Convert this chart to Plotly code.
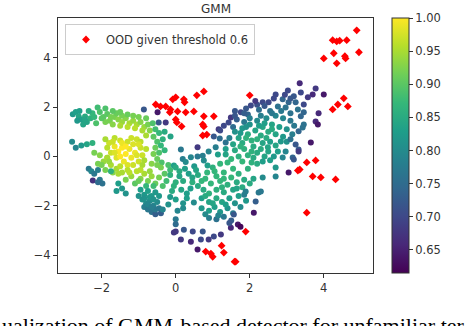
import plotly.graph_objects as go

# ---- data (x, y, detector score) ----
left_top = [
    (-2.78,1.71,0.82),(-2.70,1.80,0.83),(-2.62,1.62,0.84),(-2.55,1.50,0.83),(-2.66,1.45,0.82),
    (-2.45,1.62,0.85),(-2.40,1.40,0.84),(-2.30,1.55,0.86),(-2.50,1.30,0.84),(-2.25,1.75,0.87),
    (-2.11,1.99,0.88),(-2.05,1.80,0.89),(-1.95,1.60,0.90),(-1.85,1.72,0.90),(-1.78,1.45,0.92),
    (-1.65,1.60,0.92),(-1.55,1.50,0.93),(-1.45,1.40,0.94),(-1.35,1.55,0.93),(-1.25,1.35,0.95),
    (-1.15,1.45,0.94),(-1.05,1.30,0.95),(-0.95,1.40,0.93),(-0.85,1.20,0.94),(-0.75,1.30,0.92),
    (-0.70,1.05,0.93),(-0.90,1.05,0.95),(-1.10,1.15,0.96),(-1.30,1.20,0.96),(-1.50,1.25,0.95),
    (-1.70,1.30,0.93),(-1.90,1.40,0.92),(-2.00,1.55,0.90),(-1.60,1.75,0.91),(-1.30,1.70,0.91),
    (-1.00,1.60,0.92),(-0.80,1.55,0.91),(-2.15,1.35,0.89),
    (-0.86,1.91,0.72),(-0.49,1.79,0.64),(-0.46,1.38,0.72),
    (-2.60,1.85,0.83),(-2.35,1.85,0.85),(-2.45,1.50,0.84),(-2.20,1.60,0.87),(-1.90,1.95,0.89),
    (-1.75,1.60,0.92),(-1.45,1.65,0.92),(-1.15,1.65,0.92),(-1.70,1.85,0.90),(-1.50,1.80,0.91),
]
left_inner = [
    (-0.62,1.35,0.89),(-0.55,1.10,0.88),(-0.45,0.95,0.87),(-0.60,0.80,0.90),(-0.50,0.60,0.89),
    (-0.40,0.45,0.87),(-0.55,0.35,0.91),(-0.45,0.15,0.89),(-0.35,0.70,0.86),(-0.30,0.25,0.87),
    (-0.60,0.10,0.92),(-0.50,-0.10,0.91),(-0.38,-0.25,0.89),(-0.65,-0.30,0.93),(-0.30,1.00,0.85),
    (-0.27,1.38,0.68),(-0.14,0.81,0.84),
]
yellow_core = [
    (-1.80,0.55,0.97),(-1.65,0.40,0.99),(-1.55,0.20,1.00),(-1.45,0.35,1.00),(-1.35,0.10,1.00),
    (-1.25,0.30,0.99),(-1.15,0.50,0.98),(-1.05,0.70,0.97),(-1.20,-0.05,0.99),(-1.10,0.15,0.99),
    (-0.95,0.35,0.97),(-0.90,0.05,0.97),(-1.40,-0.20,0.99),(-1.60,-0.05,0.98),(-1.75,0.15,0.97),
    (-1.85,0.35,0.96),(-1.30,0.60,0.97),(-1.50,0.65,0.97),(-1.00,-0.20,0.97),(-1.15,-0.35,0.97),
    (-0.85,-0.15,0.95),(-0.95,0.60,0.96),(-1.65,0.75,0.96),
    (-1.70,0.60,0.97),(-1.45,0.55,0.99),(-1.35,0.40,1.00),(-1.20,0.75,0.97),(-1.00,0.50,0.98),
    (-1.30,-0.35,0.98),(-1.50,0.00,1.00),(-1.05,0.05,0.98),(-0.90,-0.35,0.95),(-1.65,0.15,0.98),
    (-1.90,0.70,0.95),(-0.80,0.85,0.95),(-0.80,0.30,0.96),(-1.85,-0.05,0.96),
]
left_low = [
    (-2.20,0.15,0.92),(-2.05,0.05,0.93),(-1.95,-0.20,0.94),(-1.85,-0.05,0.95),(-1.75,-0.35,0.95),
    (-2.10,-0.30,0.92),(-1.60,-0.50,0.95),(-1.90,-0.55,0.92),(-1.70,-0.65,0.93),(-1.50,-0.40,0.96),
    (-2.80,0.60,0.80),(-2.55,0.45,0.82),(-2.40,0.50,0.84),(-2.25,0.55,0.86),(-2.70,0.35,0.79),
    (-2.35,-0.50,0.77),(-2.28,-0.60,0.79),(-2.20,-0.70,0.77),(-2.10,-0.55,0.78),(-2.24,-0.98,0.67),
    (-2.05,-0.95,0.77),(-1.98,-1.10,0.76),(-2.10,-1.05,0.75),
    (-1.45,-0.65,0.95),(-1.30,-0.55,0.96),(-1.20,-0.80,0.94),(-1.05,-0.60,0.96),(-0.95,-0.90,0.93),
    (-0.85,-0.70,0.95),(-0.75,-1.00,0.92),(-0.65,-0.80,0.94),(-0.55,-1.10,0.91),(-0.45,-0.85,0.92),
    (-0.35,-1.20,0.89),(-1.35,-0.95,0.92),(-1.10,-1.10,0.90),(-0.40,-0.45,0.92),(-0.30,-0.70,0.90),
    (-1.55,-1.10,0.83),(-1.45,-1.30,0.82),(-1.35,-1.50,0.81),(-1.60,-1.40,0.82),(-1.75,-0.60,0.86),
    (-0.20,-0.35,0.89),(-0.15,-0.55,0.88),(-0.25,-1.00,0.88),
    (-2.00,-0.35,0.92),(-1.80,-0.20,0.94),(-1.55,-0.70,0.95),(-1.25,-0.65,0.96),(-0.95,-0.55,0.96),
    (-0.70,-0.60,0.94),(-0.50,-0.35,0.92),(-0.60,-1.20,0.88),(-0.80,-1.20,0.87),(-1.00,-1.00,0.91),
]
left_blob = [
    (-0.95,-1.35,0.83),(-0.85,-1.55,0.82),(-0.75,-1.40,0.83),(-0.65,-1.60,0.82),(-0.55,-1.45,0.82),
    (-0.90,-1.75,0.81),(-0.80,-1.90,0.80),(-0.70,-1.80,0.80),(-0.60,-2.00,0.79),(-0.50,-1.85,0.80),
    (-0.85,-2.05,0.78),(-0.75,-2.15,0.77),(-0.65,-2.25,0.76),(-0.45,-2.10,0.77),(-0.55,-2.35,0.73),
    (-0.40,-2.30,0.73),(-0.35,-2.15,0.79),(-1.00,-1.60,0.81),(-0.45,-1.60,0.82),
    (-0.70,-1.65,0.82),(-0.85,-1.70,0.81),(-0.60,-1.75,0.81),(-0.75,-1.95,0.79),(-0.55,-2.15,0.77),
    (-0.65,-2.05,0.78),
]
middle = [
    (0.14,0.28,0.77),(0.59,0.37,0.68),(1.08,0.37,0.78),(0.89,0.20,0.79),(0.59,0.00,0.77),
    (0.41,-0.03,0.79),(0.73,0.03,0.78),(0.19,-0.10,0.78),(0.27,-0.22,0.80),(0.76,-0.16,0.80),
    (0.86,-0.37,0.83),(1.14,0.08,0.83),(1.35,0.08,0.84),(-0.05,-0.37,0.83),
    (1.16,1.10,0.68),(1.03,0.81,0.72),(1.19,0.73,0.75),(1.35,0.57,0.76),
    (0.00,-0.45,0.85),(0.25,-0.50,0.83),(0.50,-0.40,0.82),(1.00,-0.45,0.86),(1.20,-0.30,0.87),
    (1.40,-0.25,0.87),(1.55,-0.50,0.87),
    (-0.15,-0.75,0.86),(0.10,-0.80,0.84),(0.35,-0.70,0.83),(0.60,-0.75,0.85),(0.85,-0.65,0.87),
    (1.10,-0.80,0.87),(1.30,-0.65,0.87),(1.50,-0.85,0.87),(1.70,-0.70,0.86),
    (0.00,-1.05,0.86),(0.20,-1.00,0.85),(0.45,-1.05,0.86),(0.70,-1.00,0.87),(0.95,-1.10,0.87),
    (1.20,-1.00,0.87),(1.40,-1.15,0.86),(1.65,-1.05,0.85),
    (-0.10,-1.40,0.85),(0.15,-1.35,0.84),(0.40,-1.30,0.83),(0.75,-1.35,0.85),(0.90,-1.50,0.86),
    (1.10,-1.35,0.86),(1.30,-1.45,0.85),(1.55,-1.35,0.84),(1.80,-1.25,0.85),(2.00,-1.10,0.85),
    (0.00,-1.75,0.83),(0.30,-1.70,0.83),(0.49,-1.87,0.80),(0.70,-1.70,0.83),(0.90,-1.85,0.84),
    (1.10,-1.70,0.85),(1.25,-1.85,0.84),(1.45,-1.70,0.83),(1.70,-1.60,0.83),(1.90,-1.80,0.82),
    (0.70,-2.10,0.82),(0.90,-2.20,0.83),(1.05,-2.05,0.83),(1.20,-2.25,0.82),(1.40,-2.10,0.81),
    (1.55,-2.30,0.78),(1.75,-2.05,0.80),(0.20,-2.10,0.80),
    (0.90,-2.50,0.78),(1.10,-2.55,0.76),(1.30,-2.45,0.77),(1.50,-2.60,0.73),(0.00,-2.55,0.77),
    (0.00,-2.75,0.75),
    (0.10,-0.60,0.85),(0.55,-0.55,0.84),(0.80,-0.90,0.87),(1.05,-0.60,0.87),(1.25,-1.25,0.86),
    (0.60,-1.20,0.85),(0.30,-1.50,0.83),(0.80,-1.60,0.85),(1.00,-1.90,0.84),(1.35,-1.95,0.83),
    (1.60,-1.90,0.81),(1.15,-2.40,0.79),(0.80,-2.35,0.80),(1.65,-1.30,0.84),(1.85,-0.95,0.85),
    (1.30,-0.90,0.87),(0.45,-0.85,0.84),(-0.05,-1.20,0.86),(0.20,-1.90,0.81),(-0.15,-1.65,0.82),
    (0.05,-2.20,0.79),(-0.20,-1.95,0.81),
]
bottom_row = [
    (0.00,-3.05,0.68),(0.22,-2.97,0.72),(0.46,-3.05,0.70),(0.73,-3.05,0.72),(0.14,-3.37,0.68),
    (0.41,-3.46,0.66),(0.68,-3.37,0.70),(0.89,-3.37,0.68),(1.03,-3.25,0.70),(1.22,-3.17,0.68),
    (0.59,-3.78,0.64),(-0.05,-3.09,0.68),(1.49,-2.89,0.66),(1.68,-2.76,0.64),(1.57,-2.36,0.72),
    (1.75,-2.85,0.62),(1.45,-2.70,0.72),
    (1.89,-1.42,0.78),(1.85,-1.55,0.78),(2.24,-1.46,0.77),(2.16,-1.83,0.73),(2.11,-2.28,0.64),
    (2.30,-1.42,0.77),(2.35,-0.85,0.80),(2.70,-0.81,0.79),(2.70,-0.45,0.82),(3.05,-0.65,0.64),
    (2.10,-0.90,0.84),(1.95,-0.50,0.86),(2.20,-0.30,0.85),(2.05,-0.25,0.86),(1.80,-0.20,0.87),
]
right_arm = [
    (2.35,2.20,0.70),(2.03,2.07,0.70),(1.76,1.79,0.70),(1.49,1.58,0.68),(1.43,1.38,0.70),
    (3.35,2.97,0.66),(3.78,2.76,0.68),(4.00,2.52,0.64),(3.03,2.68,0.70),(2.70,2.52,0.70),
    (3.19,2.44,0.72),(3.38,2.60,0.70),(3.70,2.52,0.66),(3.57,2.40,0.68),(2.51,2.20,0.70),
    (2.89,2.32,0.74),(3.05,2.20,0.74),(3.24,2.20,0.74),(3.46,2.11,0.70),(2.76,2.03,0.76),
    (2.97,1.99,0.76),(3.30,1.91,0.76),(3.46,1.79,0.74),(3.86,1.75,0.66),(3.78,1.42,0.66),
    (3.84,1.30,0.64),(3.38,1.63,0.74),(3.46,1.30,0.76),(3.32,1.02,0.74),(3.43,1.18,0.76),
    (3.65,0.57,0.64),(3.24,0.49,0.72),(3.32,0.28,0.72),
    (1.60,1.85,0.72),(1.90,1.95,0.72),(2.20,2.10,0.71),(1.65,1.50,0.73),(1.95,1.70,0.74),
    (2.25,1.90,0.75),(2.55,1.85,0.76),(1.85,1.40,0.77),(1.55,1.20,0.75),(2.15,2.25,0.68),
    (1.30,1.25,0.70),(1.20,1.05,0.70),
    (1.60,1.65,0.72),(1.85,1.75,0.73),(2.40,2.05,0.72),(2.65,2.35,0.70),(2.95,2.50,0.70),
    (3.10,2.35,0.72),
]
right_core = [
    (1.60,1.00,0.81),(1.80,1.15,0.82),(2.00,1.30,0.81),(2.20,1.45,0.80),(2.45,1.55,0.80),
    (2.70,1.65,0.79),(2.90,1.55,0.79),(3.10,1.45,0.77),(1.70,0.75,0.84),(1.95,0.90,0.85),
    (2.15,1.05,0.84),(2.35,1.20,0.84),(2.60,1.30,0.84),(2.80,1.20,0.83),(3.00,1.10,0.81),
    (3.15,0.90,0.78),(1.55,0.50,0.84),(1.80,0.55,0.85),(2.05,0.65,0.86),(2.30,0.85,0.85),
    (2.50,1.00,0.85),(2.70,0.90,0.84),(2.90,0.80,0.82),(3.00,0.60,0.81),(2.84,0.61,0.82),
    (1.60,0.25,0.85),(1.85,0.30,0.86),(2.10,0.40,0.85),(2.35,0.55,0.84),(2.49,0.37,0.84),
    (2.76,0.20,0.83),(2.97,0.20,0.79),(2.65,0.00,0.82),(2.89,-0.04,0.79),(3.16,-0.04,0.74),
    (3.19,-0.12,0.72),(3.32,0.20,0.68),(1.70,0.00,0.86),(1.95,0.05,0.86),(2.20,0.15,0.85),
    (2.40,0.00,0.84),(2.35,-0.20,0.83),(2.55,-0.15,0.83),(1.50,-0.10,0.87),(1.35,0.30,0.83),
    (1.45,0.75,0.78),(2.55,0.60,0.83),(2.60,1.10,0.85),(2.20,0.70,0.86),
    (2.00,1.55,0.78),(2.30,1.65,0.78),(2.60,1.75,0.77),(2.85,1.85,0.77),(3.10,1.75,0.76),
    (3.20,1.25,0.77),(3.10,0.70,0.76),(2.40,1.35,0.83),(1.75,0.95,0.82),(1.90,1.20,0.81),
    (2.25,1.25,0.83),(2.45,0.75,0.85),(2.70,0.45,0.84),(1.90,0.75,0.86),(2.05,0.20,0.86),
    (2.30,0.30,0.85),(2.50,0.20,0.84),(1.75,0.40,0.86),(2.10,-0.05,0.85),
]
ood_x = [-0.54,-0.41,-0.27,-0.14,-0.16,-0.08,0.00,0.05,0.00,0.03,0.16,0.22,0.24,0.27,0.49,0.57,
         0.76,0.76,1.03,0.73,0.76,0.73,0.84,2.00,
         4.89,4.24,4.35,4.43,4.62,4.95,4.27,4.00,4.57,4.59,4.35,4.54,4.38,4.24,4.65,
         3.54,3.78,3.30,3.35,3.70,3.92,4.32,3.54,1.89,1.59,
         1.24,1.30,0.81,0.95,1.00,1.62]
ood_y = [2.11,2.03,2.03,1.91,1.79,2.32,2.40,1.83,1.50,1.38,1.22,2.32,2.20,1.79,1.83,2.48,
         2.64,1.63,1.63,1.30,1.22,0.85,0.89,2.48,
         5.12,4.72,4.67,4.70,4.72,4.23,4.19,3.98,4.07,3.98,3.78,2.36,2.11,1.91,2.03,
         -0.24,-0.16,-0.57,-0.53,-0.81,-0.85,-0.93,-2.28,-3.05,-4.27,
         -3.62,-3.90,-3.86,-3.94,-4.07,-4.27]
cbar_ticks = [0.65, 0.70, 0.75, 0.80, 0.85, 0.90, 0.95, 1.00]
x_ticks = [-2, 0, 2, 4]
y_ticks = [-4, -2, 0, 2, 4]

pts = left_top + left_inner + yellow_core + left_low + left_blob + middle + bottom_row + right_arm + right_core
px = [p[0] for p in pts]
py = [p[1] for p in pts]
pc = [p[2] for p in pts]

FONT = "DejaVu Sans"
fig = go.Figure()
fig.add_trace(go.Scatter(
    x=px, y=py, mode="markers", showlegend=False, hoverinfo="skip",
    marker=dict(size=6, color=pc, colorscale="Viridis", cmin=0.615, cmax=1.0,
                line=dict(width=0),
                colorbar=dict(x=(392-58)/315, xanchor="left", xpad=0, ypad=0,
                              y=0.5, yanchor="middle", len=1, lenmode="fraction",
                              thickness=17, outlinewidth=1, outlinecolor="#333",
                              tickvals=cbar_ticks, ticktext=[f"{t:.2f}" for t in cbar_ticks],
                              ticks="outside", ticklen=4, tickcolor="#333",
                              tickfont=dict(family=FONT, size=11.5, color="#333"))),
))
fig.add_trace(go.Scatter(
    x=ood_x, y=ood_y, mode="markers", name="OOD given threshold 0.6", hoverinfo="skip",
    marker=dict(size=6, color="red", symbol="diamond", line=dict(width=0)),
))
axis_common = dict(showline=True, mirror=True, linecolor="#333", linewidth=1,
                   ticks="outside", ticklen=4, tickcolor="#333", showgrid=False, zeroline=False,
                   tickfont=dict(family=FONT, size=11.5, color="#333"))
fig.update_xaxes(range=[-3.18, 5.33], tickvals=x_ticks, **axis_common)
fig.update_yaxes(range=[-4.73, 5.62], tickvals=y_ticks, **axis_common)
fig.update_layout(
    width=470, height=326, margin=dict(l=58, r=97, t=18, b=53),
    plot_bgcolor="white", paper_bgcolor="white",
    font=dict(family=FONT, color="#333"),
    legend=dict(x=(65-58)/315, y=1-(24-18)/255, xanchor="left", yanchor="top",
                bordercolor="#cccccc", borderwidth=1, bgcolor="white", itemwidth=30,
                font=dict(family=FONT, size=11.5, color="#333")),
    annotations=[
        dict(text="GMM", xref="paper", yref="paper", x=0.5, y=1, yanchor="bottom",
             showarrow=False, font=dict(family=FONT, size=12, color="#333")),
        dict(text="ualization of GMM-based detector for unfamiliar ter", xref="paper", yref="paper",
             x=-58/315, y=-(311-273)/255, xanchor="left", yanchor="top", showarrow=False,
             font=dict(family="Liberation Serif", size=22, color="black")),
    ],
)
fig.write_html("out.html", config={"displayModeBar": False},
               post_script="document.body.style.margin='0';")
